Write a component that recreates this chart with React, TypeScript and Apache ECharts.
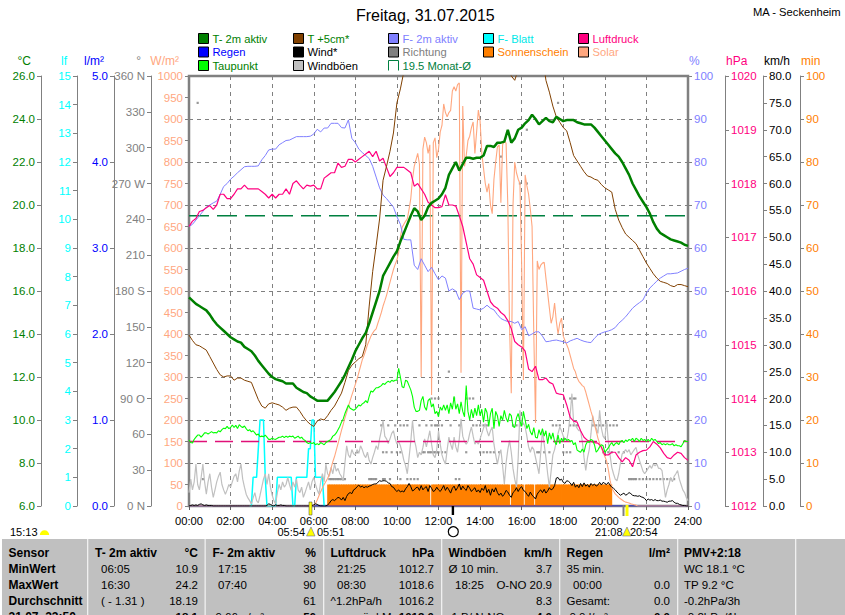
import React, { useEffect, useRef } from "react";
import * as echarts from "echarts";

const FONT = "Liberation Sans";
const minutes5 = Array.from({ length: 289 }, (_, i) => i * 5);
const minutes10 = Array.from({ length: 145 }, (_, i) => i * 10);

const t2m = [
  15.7,15.55,15.4,15.3,15.2,15.1, 14.9,14.65,14.45,14.3,14.15,14.0, 13.85,13.75,13.65,13.6,13.4,13.3,
  13.2,13.0,12.75,12.55,12.35,12.15, 12.0,11.9,11.85,11.8,11.7,11.7, 11.7,11.5,11.4,11.3,11.25,11.1,
  11.0,10.9,10.9,10.9,10.9,11.1, 11.3,11.55,11.8,12.1,12.45,12.8, 13.2,13.5,13.8,14.05,14.5,15.0,
  15.5,16.0,16.7,17.0,17.3,17.6, 17.85,18.3,18.7,19.1,19.5,19.85, 19.7,19.3,19.5,19.9,20.1,20.2,
  20.3,20.5,20.8,21.4,21.7,22.0, 21.6,21.9,22.2,22.2,22.15,22.2, 22.2,22.3,22.75,22.75,22.7,22.9,
  22.9,22.95,23.5,22.9,23.1,23.5, 23.6,23.8,23.95,24.2,24.0,23.75, 23.9,24.05,23.9,23.85,24.1,24.0,
  23.9,23.95,23.95,23.95,23.85,23.8, 23.75,23.75,23.75,23.6,23.4,23.2, 23.0,22.8,22.6,22.4,22.25,22.0,
  21.7,21.4,21.0,20.7,20.4,20.15, 19.9,19.6,19.2,18.9,18.7,18.6, 18.5,18.4,18.35,18.3,18.25,18.15, 18.1,
];
const t5cm = [
  13.95,13.7,13.5,13.45,13.35,13.25, 12.95,12.65,12.35,12.1,12.0,12.05, 12.05,11.85,11.95,11.95,11.85,11.8,
  11.75,11.35,10.95,10.65,10.55,10.75, 10.8,10.75,10.7,10.6,10.45,10.55, 10.6,10.6,10.4,10.15,9.95,9.8,
  9.7,9.95,10.05,10.0,10.2,10.45, 10.65,10.95,11.25,11.75,12.3,12.55, 12.7,12.85,12.95,13.5,15.3,16.9,
  18.1,19.35,21.15,21.8,22.5,23.35, 24.75,25.4,26.2,27.0,27.5,28.0, 28.0,28.3,28.5,28.6,28.6,28.7,
  28.8,28.8,28.9,28.9,28.9,28.8, 28.7,28.5,28.2,28.0,27.8,27.6, 27.4,27.2,27.0,26.9,26.8,26.7,
  26.6,26.5,26.4,26.0,25.8,26.3, 26.7,27.0,27.2,27.2,27.1,27.0, 27.0,25.8,25.25,24.6,24.1,23.85,
  23.6,23.45,22.9,22.3,22.05,21.8, 21.55,21.35,21.3,21.2,21.15,20.95, 20.8,20.7,20.6,19.8,19.3,18.95,
  18.65,18.5,18.35,18.2,17.9,17.6, 17.3,17.05,16.8,16.6,16.45,16.4, 16.35,16.25,16.2,16.3,16.3,16.25, 16.2,
];
const humidity = [
  65,65.5,66.5,67.5,68.5,69.5, 70,70.5,70.9,72.5,74.3,75, 76,76.7,77.5,78.2,78.9,79,
  79,79,79.1,80.5,81.5,82.8, 83,83,84,84.5,85,85.1, 85.5,85.9,85.9,85.9,85.9,86,
  86.5,87.6,87,87.9,87.9,89, 89,89,88,87.9,89.8,85.5, 84.5,83,82.2,81.5,80.8,79,
  76.5,74,72.3,71.5,70.5,69.5, 67.3,65.5,62,61.9,61.9,56, 55,57.5,56,54.5,55.5,54,
  52.6,53.5,53,50,50.5,50, 48,49.5,50,50,46,45.8, 45.6,46,46.7,46,45.6,44.5,
  43.6,43.2,42.9,42.9,42.5,42.9, 41,41.7,39.6,40,40.5,40.5, 39.5,38.2,38.3,38.5,38.6,38.4,
  38.2,37.9,38.4,38.7,39,38.6, 38.3,38.1,38,39,39.8,40.2, 40.5,40.7,41,41.5,42.5,43.2,
  44,45,46,46.7,47.3,47.9, 49.5,50.7,51.5,52.3,53,53.5, 54,54,54.1,54.2,54.6,55, 55.3,
];
const pressure = [
  1017.2,1017.3,1017.35,1017.48,1017.5,1017.55, 1017.59,1017.52,1017.6,1017.8,1017.8,1017.72,
  1017.72,1017.8,1017.9,1017.9,1017.97,1017.9, 1017.9,1017.9,1017.9,1017.85,1017.8,1017.73,
  1017.8,1017.73,1017.8,1017.8,1017.9,1017.8, 1018.0,1018.05,1017.97,1017.9,1017.97,1017.95,
  1017.97,1017.9,1017.9,1018.1,1018.15,1018.2, 1018.2,1018.38,1018.3,1018.32,1018.45,1018.45,
  1018.4,1018.45,1018.5,1018.55,1018.6,1018.5, 1018.6,1018.42,1018.47,1018.3,1018.13,1018.2,
  1018.3,1018.3,1018.3,1018.25,1018.2,1017.95, 1018,1017.9,1017.8,1017.65,1017.6,1017.55,
  1017.55,1017.57,1017.79,1017.6,1017.6,1017.58, 1017.4,1017.2,1016.9,1016.6,1016.5,1016.3,
  1016.25,1016.2,1016,1015.8,1015.72,1015.68, 1015.6,1015.55,1015.45,1015.3,1015.06,1015,
  1014.96,1014.88,1014.55,1014.5,1014.6,1014.35, 1014.35,1014.38,1014.3,1014.27,1014.1,1014.08,
  1014.07,1013.88,1013.65,1013.58,1013.56,1013.4, 1013.28,1013.22,1013.2,1013.18,1013.17,1013.1,
  1012.95,1012.95,1013,1013.0,1012.9,1012.82, 1012.9,1012.85,1012.73,1012.95,1013,1013.03,
  1013.04,1013.1,1013.2,1013.15,1013.08,1012.98, 1012.9,1012.88,1012.95,1013,1012.98,1012.9, 1012.85,
];
const dewPoint = [
  9.07,8.95,8.93,9.1,9.2,9.3,9.3,9.2,9.3,9.4,9.4,9.35,
  9.4,9.46,9.4,9.42,9.4,9.5,9.45,9.55,9.62,9.6,9.7,9.6,
  9.65,9.77,9.65,9.75,9.6,9.78,9.7,9.65,9.72,9.6,9.5,9.55,
  9.45,9.5,9.4,9.3,9.35,9.22,9.25,9.22,9.3,9.2,9.1,9.1,
  9.15,9.12,9.1,9.15,9.2,9.2,9.25,9.18,9.25,9.2,9.25,9.22,
  9.25,9.15,9.2,9.25,9.15,9.2,9.1,9.05,8.95,8.9,8.95,8.9,
  8.95,8.85,8.9,8.85,8.95,8.9,8.85,8.95,9.0,9.05,9.1,9.25,
  9.3,9.4,9.55,9.7,9.9,10.05,10.3,10.5,10.7,10.55,10.5,10.45,
  10.5,10.6,10.7,10.65,10.75,10.8,10.9,10.8,11.1,11.35,11.3,11.4,
  11.5,11.5,11.55,11.6,11.7,11.65,11.75,11.8,11.75,11.85,11.8,11.85,
  11.85,12.4,12.0,11.55,11.5,11.85,11.8,11.6,11.4,11.1,10.6,10.4,
  10.4,10.45,10.9,11.1,10.6,10.45,10.9,11.0,10.6,10.75,10.3,10.4,
  10.15,10.6,10.45,10.7,10.45,10.7,10.3,10.8,10.5,11.1,10.5,10.75,
  10.3,10.85,10.4,10.15,11.6,10.4,10.0,10.5,10.1,10.55,10.2,10.7,
  10.2,10.5,9.9,10.55,10.35,9.7,10.3,10.55,9.6,10.4,10.2,9.7,
  10.2,10.0,10.45,10.1,9.9,10.3,10.2,9.7,9.65,10.1,10.3,9.95,
  9.7,10.4,10.0,9.6,9.8,9.45,9.3,9.65,9.2,9.16,9.55,9.3,
  9.6,9.25,9.5,8.9,9.4,9.1,9.4,9.0,8.85,9.3,8.9,9.15,
  9.0,9.15,9.05,9.1,9.0,9.05,8.85,8.95,8.6,8.55,8.5,8.65,
  8.5,8.85,9.0,8.95,9.1,9.05,8.85,8.5,8.6,8.75,8.85,8.8,
  8.5,8.6,8.7,8.85,8.95,8.8,8.9,8.95,8.85,9.0,9.05,8.95,
  9.07,9.0,9.1,9.05,9.15,9.0,9.15,9.1,9.0,9.15,9.05,9.1,
  9.0,9.1,9.0,9.15,9.05,9.1,9.0,8.9,8.95,8.85,8.9,8.85,
  8.9,8.85,8.85,8.9,8.8,8.85,8.8,8.8,8.76,8.9,9.05,9.0, 9.0,
];
const solar = [
  0,0,0,0,0,0,0,0,0,0,0,0, 0,0,0,0,0,0,0,0,0,0,0,0, 0,0,0,0,0,0,0,0,0,0,0,0,
  0,0,0,0,0,0,0,0,0,0,0,0, 0,0,0,0,0,0,0,0,0,0,0,0, 0,0,0,0,0,0,0,0,0,0,0,0,
  2,6,14,24,33,42,50,57,64,74,88,103,
  115,130,145,160,176,190,205,218,232,245,258,270,
  283,295,310,325,340,350,362,375,385,395,402,408,
  412,425,437,450,465,477,490,505,520,535,550,562,
  572,590,625,648,655,662,668,690,715,760,790,805,
  820,795,300,830,858,845,820,840,258,845,856,810,
  830,870,885,935,915,905,915,920,965,975,965,980,
  984,310,930,790,815,850,860,880,893,820,870,921,
  895,820,785,750,730,750,700,680,760,800,835,840,
  705,840,848,844,700,420,262,700,800,775,760,750,
  560,293,770,745,725,690,650,400,193,570,550,560,
  565,567,530,495,460,425,440,472,430,400,425,437,
  395,385,375,365,350,335,320,312,298,290,285,280,
  277,265,250,235,220,207,190,175,158,146,135,125,
  115,105,85,60,42,35,28,24,20,17,14,11,
  9,8,7,5,4,3,2,0,0,0,0,0,
  0,0,0,0,0,0,0,0,0,0,0,0, 0,0,0,0,0,0,0,0,0,0,0,0, 0,
];
const gusts = [
  2.5,5.0,3.0,4.5,7.8,4.0,3.0,5.3,7.8,4.5,2.2,4.5,
  6.0,3.5,1.6,3.0,4.5,5.5,6.3,4.0,3.0,2.2,3.0,4.0,
  3.5,4.5,5.5,6.0,4.5,6.5,7.8,5.0,3.5,2.2,1.5,1.0,
  0.4,1.5,2.5,1.0,0.6,2.0,3.5,5.0,6.0,4.0,6.0,3.5,
  2.0,1.0,0.4,2.5,4.0,3.0,4.5,3.5,4.0,5.3,4.0,2.9,
  4.5,3.5,5.0,3.0,2.5,3.5,1.6,2.5,3.5,4.5,3.0,4.5,
  5.3,4.0,3.0,2.2,4.5,6.0,4.5,7.8,6.0,5.5,7.2,6.0,
  7.8,6.5,7.0,6.0,5.5,4.7,8.0,11.2,9.5,9.0,10.5,9.7,
  9.5,10.5,9.8,11.2,10.5,9.5,9.0,10.0,8.5,7.8,9.0,10.0,
  11.2,10.5,12.5,14.0,15.9,13.0,12.5,11.6,12.5,13.5,14.0,12.5,
  11.5,12.0,11.2,10.0,8.5,7.5,6.0,9.0,12.0,15.9,12.5,11.0,
  9.0,10.0,9.5,10.9,12.5,11.0,12.5,14.0,11.5,9.5,9.0,10.5,
  14.0,11.5,9.5,8.5,7.8,10.5,12.8,11.5,10.5,12.8,11.0,10.0,
  12.5,16.2,13.0,12.0,11.5,12.0,13.5,14.7,13.0,11.5,12.0,11.5,
  12.5,13.5,14.5,15.3,14.0,13.0,14.0,14.7,11.5,9.5,7.8,9.5,
  10.5,7.5,4.1,8.0,10.5,12.2,10.0,7.0,5.0,3.5,9.0,17.8,
  15.0,15.5,14.7,13.0,11.0,10.0,11.0,10.5,9.0,7.5,6.0,10.0,
  14.0,11.5,9.0,6.0,3.5,6.5,9.5,10.5,12.0,13.5,14.7,14.0,
  13.0,12.5,12.2,14.0,17.0,20.9,15.5,15.0,14.5,14.0,14.0,12.0,
  9.0,6.6,9.0,10.5,13.5,16.8,15.0,14.5,13.5,17.8,14.5,13.0,
  12.5,15.9,12.0,9.5,7.2,6.0,5.0,4.7,6.0,8.0,9.7,10.0,
  10.5,10.0,10.5,9.5,10.0,10.5,10.9,9.5,8.5,7.5,6.5,6.0,
  6.5,7.0,7.5,7.0,7.8,7.5,7.8,7.0,7.0,6.6,4.0,1.6,
  3.0,4.0,5.3,4.5,5.5,6.0,6.6,5.0,4.0,3.0,2.5,1.6, 1.0,
];
const wind = [
  0,0.1,0.2,0.1,0.2,0.1,0.3,0.4,0.2,0.1,0.2,0.1,
  0.1,0.1,0,0,0,0,0,0,0,0,0,0,
  0,0,0,0,0,0,0,0,0,0,0,0,
  0,0,0,0,0,0,0,0,0,0.1,0.4,0.3,
  0.1,0,0.2,0.1,0.1,0.2,0.1,0.1,0,0,0,0,
  0,0,0,0,0,0,0,0,0,0,0,0.1,
  0.2,0.4,0.3,0.1,0,0,0,0,0.2,0.5,1.0,1.2,
  1.0,1.3,1.6,1.5,1.1,1.6,1.0,1.8,2.3,2.5,2.3,3.0,
  3.2,3.6,3.9,3.5,3.7,3.4,3.6,3.5,3.7,3.8,4.0,4.1,
  4.1,4.4,4.7,4.6,4.7,4.7,4.6,4.3,4.2,3.6,3.5,3.0,
  2.7,3.0,2.6,2.8,2.6,3.2,3.6,4.2,3.6,2.8,3.0,3.4,
  3.5,2.9,3.8,3.0,3.4,3.6,2.7,3.8,3.3,2.7,2.9,3.5,
  3.0,2.7,3.2,3.8,2.9,3.5,3.0,2.4,3.3,3.7,2.9,3.4,
  4.1,3.0,3.7,3.2,2.9,3.8,3.3,2.7,3.1,3.4,2.6,3.0,
  2.5,3.3,2.9,3.8,2.5,3.1,2.0,3.2,2.6,3.4,2.5,2.0,
  2.4,1.8,2.2,2.9,2.6,2.0,1.6,2.5,2.8,3.4,2.7,3.3,
  3.6,2.9,2.7,2.2,1.8,2.6,2.0,1.7,1.3,2.2,2.7,3.0,
  2.5,3.1,2.4,2.8,3.4,3.0,3.2,3.8,5.2,5.3,4.8,5.0,
  4.4,4.2,4.7,4.6,4.3,3.8,4.4,3.5,3.9,3.4,4.2,3.6,
  4.3,3.7,4.0,3.5,4.2,3.8,4.1,3.7,3.9,4.4,3.9,4.4,
  4.2,4.0,4.4,3.9,3.5,3.3,3.0,2.6,2.3,2.0,2.2,2.4,
  2.0,2.2,2.5,2.3,2.0,1.9,1.9,1.8,1.9,1.7,1.6,1.4,
  1.0,1.3,1.1,1.2,1.0,1.2,1.0,1.0,1.1,0.9,0.9,0.8,
  0.7,0.9,0.9,1.0,0.7,0.5,0.5,0.3,0.2,0.1,0.1,0, 0,
];
const leafStart = 35;
const leafWetness = [
  0, 0,1,1,1,2,3,3,3,1,0,0,0, 0,0,0,1,1,1,1,1,1,1,1,1,
  0,0,1,1,1,1,1,1,1,2,2,3, 3,1,1,1,1,1,0,
];
const leafMinutes = minutes5.slice(leafStart, leafStart + leafWetness.length);
const sunshine = [
  0,0,0,0,0,0,0,0,0,0,0,0, 0,0,0,0,0,0,0,0,0,0,0,0, 0,0,0,0,0,0,0,0,0,0,0,0,
  0,0,0,0,0,0,0,0,0,0,0,0, 0,0,0,0,0,0,0,0,0,0,0,0, 0,0,0,0,0,0,0,0,0,0,0,0,
  0,0,0,0,0,0,0,0,5,5,5,5,
  5,5,5,5,5,5,5,5,5,5,5,5, 5,5,5,5,5,5,5,5,5,5,5,5, 5,5,5,5,5,5,5,5,5,5,5,5,
  5,5,5,5,5,5,5,5,5,5,5,5, 5,5,5,5,5,5,5,0,5,5,5,5,
  5,5,5,5,5,5,5,5,5,5,5,5, 5,5,5,5,5,5,5,5,5,5,5,5, 5,5,5,5,5,5,5,5,5,5,5,5,
  5,5,5,5,5,0,5,5,5,5,5,5, 5,0,5,5,5,5,5,0,5,5,5,5, 5,5,5,5,5,5,5,5,5,5,5,5,
  5,5,5,5,5,5,5,5,5,5,5,5, 5,5,5,5,5,5,5,5,5,5,5,5, 5,5,5,5,0,0,0,0,0,0,0,0,
  0,0,0,0,0,0,0,0,0,0,0,0, 0,0,0,0,0,0,0,0,0,0,0,0, 0,0,0,0,0,0,0,0,0,0,0,0,
];
const dir225 = [40,405,410,415,420,425,430,435,440,445,450,520,525,530,535,540,560,565,580,610,630,640,650,660,770,780,1270,1275,1280,1285,1290,1300,1310,1320,1330,1340,1350,1360,1370,1380,1390,1400];
const dir45 = [485,560,570,585,600,610,675,680,690,695,700,705,710,715,720,730,740,800,840,850,860,870,880,895,1005,1010,1025,1040,1080,1090,1100,1195,1210,1220,1240,1255];
const dir675 = [555,575,595,610,620,630,665,685,700,710,715,720,730,755,780,820,830,840,850,860,935,945,955,1050,1060,1070,1100,1110,1120,1165,1175,1185,1195,1205,1215,1225,1235];
const dir90 = [700,710,720,765,800,810,820,1100,1110,1115];
const dir1125 = [750];
const dir270 = [955,975];
const dir2925 = [900];
const dir315 = [975];
const dir3375 = [25,1065];
const regenMinutes = [0, 1440];
const regenValues = [0, 0];
const meanMinutes = [0, 1440];
const monthMean = [19.5, 19.5];
const pressureMean = [1013.2, 1013.2];

const directionTicks: Record<number, string> = { 360: "360 N", 270: "270 W", 180: "180 S", 90: "90 O", 0: "0 N" };

const tableHeaders = ["Sensor","T- 2m aktiv","°C","F- 2m aktiv","%","Luftdruck","hPa","Windböen","km/h","Regen","l/m²","PMV+2:18"];
const rowLabels = ["MinWert","MaxWert","Durchschnitt","31.07. 23:50"];
const colT = [["06:05","10.9"],["16:30","24.2"],["( - 1.31 )","18.19"],["","18.1"]];
const colF = [["17:15","38"],["07:40","90"],["","61"],["9.66 g/m³","56"]];
const colP = [["21:25","1012.7"],["08:30","1018.6"],["^1.2hPa/h","1016.2"],["m ü.d.M.","1013.0"]];
const colW = [["Ø 10 min.","3.7"],["18:25","O-NO 20.9"],["","8.3"],["1 B/ N-NO","4.0"]];
const colR = [["35 min.",""],["00:00","0.0"],["Gesamt:","0.0"],["0.0 l/m²","0.0"]];
const colPmv = ["WC 18.1 °C","TP 9.2 °C","-0.2hPa/3h","-0.2hPa/1h"];

const pairs = (xs: number[], ys: number[]) => ys.map((y, i) => [xs[i], y]);

function yAxis(name: string, position: "left" | "right", offset: number, min: number, max: number, interval: number, color: string, formatter: any, extra: any = {}) {
  const left = position === "left";
  return {
    type: "value", name, position, offset, min, max, interval,
    nameLocation: "end", nameGap: 9,
    nameTextStyle: { color, fontFamily: FONT, fontSize: 12, align: left ? "right" : "left", padding: left ? [0, 10, 0, 0] : [0, 0, 0, 1] },
    axisLine: { show: true, onZero: false, lineStyle: { color: "#808080", width: 1 } },
    axisTick: { show: true, length: 4, lineStyle: { color: "#808080" } },
    axisLabel: { color, fontFamily: FONT, fontSize: 11.5, margin: 6, formatter, showMinLabel: true, showMaxLabel: true },
    splitLine: { show: false },
    ...extra,
  };
}

function line(name: string, xs: number[], ys: number[], yAxisIndex: number, color: string, width: number, extra: any = {}) {
  return {
    name, type: "line", xAxisIndex: 0, yAxisIndex, data: pairs(xs, ys),
    showSymbol: false, symbol: "none", smooth: false,
    lineStyle: { color, width }, itemStyle: { color }, ...extra,
  };
}

function dirSeries() {
  const levels: [number[], number][] = [[dir225,22.5],[dir45,45],[dir675,67.5],[dir90,90],[dir1125,112.5],[dir270,270],[dir2925,292.5],[dir315,315],[dir3375,337.5]];
  const data: number[][] = [];
  levels.forEach(([ts, d]) => ts.forEach((t) => data.push([t, d])));
  return { name: "Richtung", type: "scatter", yAxisIndex: 3, data, symbol: "rect", symbolSize: 2.2, itemStyle: { color: "#808080" } };
}

function legendColumn(left: number, items: [string, string, string, any?][]) {
  return {
    show: true, left, top: 33, orient: "vertical", itemWidth: 10, itemHeight: 10, itemGap: 2.5, selectedMode: false, padding: 0,
    textStyle: { fontFamily: FONT, fontSize: 11.2, padding: [0, 0, 0, -1] },
    data: items.map(([name, swatch, text, over]) => ({
      name, icon: "rect",
      itemStyle: { color: swatch, borderColor: "#000", borderWidth: 1, opacity: 1 },
      textStyle: { color: text, fontFamily: FONT, fontSize: 11.2 },
      ...(over || {}),
    })),
  };
}

function tableGraphics() {
  const g: any[] = [];
  const txt = (x: number, y: number, text: string, opts: any = {}) =>
    g.push({ type: "text", x, y, z: 60, style: { text, fill: opts.fill || "#000", font: `${opts.bold ? "bold " : ""}${opts.size || 11.5}px "${FONT}"`, textAlign: opts.align || "left", textVerticalAlign: "middle" } });
  g.push({ type: "rect", shape: { x: 2, y: 539, width: 843, height: 76 }, z: 50, style: { fill: "#c0c0c0" } });
  [87, 204.5, 323, 441, 559, 677, 795].forEach((x) => g.push({ type: "rect", shape: { x, y: 539, width: 1.3, height: 76 }, z: 51, style: { fill: "#f0f0f0" } }));
  const rows = [569, 585, 601, 617];
  txt(8.5, 553, tableHeaders[0], { bold: true, size: 12 });
  rowLabels.forEach((l, i) => txt(8.5, rows[i], l, { bold: true, size: 12 }));
  const cols: [number, number, number, string, string, string[][]][] = [
    [95, 101, 198, tableHeaders[1], tableHeaders[2], colT],
    [212.5, 218, 316, tableHeaders[3], tableHeaders[4], colF],
    [330.5, 337, 434, tableHeaders[5], tableHeaders[6], colP],
    [448.5, 455, 552, tableHeaders[7], tableHeaders[8], colW],
    [566.5, 573, 670, tableHeaders[9], tableHeaders[10], colR],
  ];
  cols.forEach(([lx, sx, rx, h, u, rowsData], c) => {
    txt(lx, 553, h, { bold: true, size: 12 });
    txt(rx, 553, u, { bold: true, size: 12, align: "right" });
    rowsData.forEach(([a, b], i) => {
      const flush = a.startsWith("^") || a.startsWith("Ø") || a.startsWith("Gesamt") || a.startsWith("35") || (i === 3 && c !== 2);
      txt(flush ? lx + (i === 3 ? 3 : 0) : (i === 3 && c === 2 ? 350 : sx), rows[i], a);
      txt(rx, rows[i], b, { align: "right", bold: i === 3 });
    });
  });
  txt(684, 553, tableHeaders[11], { bold: true, size: 12 });
  colPmv.forEach((t, i) => txt(684, rows[i], t));
  return g;
}

function markerGraphics() {
  const g: any[] = [];
  const label = (x: number, text: string) =>
    g.push({ type: "text", x, y: 532, z: 40, style: { text, fill: "#000", font: `11px "${FONT}"`, textVerticalAlign: "middle" } });
  label(10, "15:13"); label(277.5, "05:54"); label(317, "05:51"); label(595, "21:08"); label(630, "20:54");
  g.push({ type: "sector", z: 41, shape: { cx: 44.5, cy: 535, r: 4.7, r0: 0, startAngle: Math.PI, endAngle: Math.PI * 2 }, style: { fill: "#ffff00" } });
  g.push({ type: "polygon", z: 41, shape: { points: [[306.5, 536], [315, 536], [311, 527]] }, style: { fill: "#ffff00", stroke: "#5050a0", lineWidth: 0.5 } });
  g.push({ type: "polygon", z: 41, shape: { points: [[622.5, 536], [631, 536], [627, 527]] }, style: { fill: "#ffff00", stroke: "#5050a0", lineWidth: 0.5 } });
  g.push({ type: "rect", z: 41, shape: { x: 309, y: 502, width: 3, height: 13 }, style: { fill: "#ffff00", stroke: "#404040", lineWidth: 0.5 } });
  g.push({ type: "rect", z: 41, shape: { x: 625.5, y: 505, width: 3, height: 11 }, style: { fill: "#ffff00" } });
  g.push({ type: "rect", z: 41, shape: { x: 622.5, y: 505, width: 2, height: 11 }, style: { fill: "#808080" } });
  g.push({ type: "rect", z: 41, shape: { x: 451.7, y: 506, width: 2.4, height: 9 }, style: { fill: "#000" } });
  g.push({ type: "circle", z: 41, shape: { cx: 453.3, cy: 531.7, r: 5 }, style: { fill: "#fff", stroke: "#000", lineWidth: 1.2 } });
  return g;
}

export default function App() {
  const ref = useRef<HTMLDivElement>(null);
  useEffect(() => {
    const chart = echarts.init(ref.current!, undefined, { renderer: "svg", width: 845, height: 615 });
    chart.setOption({
      animation: false,
      backgroundColor: "#ffffff",
      textStyle: { fontFamily: FONT },
      title: [
        { text: "Freitag, 31.07.2015", left: 356, top: 7, padding: 0, textStyle: { fontFamily: FONT, fontSize: 16, fontWeight: "normal", color: "#000" } },
        { text: "MA - Seckenheim", left: 753, top: 6, padding: 0, textStyle: { fontFamily: FONT, fontSize: 11.2, fontWeight: "normal", color: "#000" } },
      ],
      legend: [
        legendColumn(198, [["T- 2m aktiv","#008000","#008000"],["Regen","#0000ff","#0000ff"],["Taupunkt","#00ff00","#008000"]]),
        legendColumn(293, [["T +5cm*","#804000","#008000"],["Wind*","#000000","#000000"],["Windböen","#c0c0c0","#000000"]]),
        legendColumn(388, [["F- 2m aktiv","#8080ff","#8080ff"],["Richtung","#808080","#808080"],
          ["19.5 Monat-Ø","#008040","#008040",{ icon: "path://M0 10V0H10V10", itemStyle: { color: "transparent", borderColor: "#008040", borderWidth: 1 } }]]),
        legendColumn(483, [["F- Blatt","#00ffff","#00e8e8"],["Sonnenschein","#ff8000","#ff8000"]]),
        legendColumn(578, [["Luftdruck","#ff0080","#ff0080"],["Solar","#ffa77f","#ffa77f"]]),
      ],
      grid: { left: 189, right: 157, top: 76, bottom: 109, show: true, borderColor: "#808080", borderWidth: 2.5, backgroundColor: "#ffffff" },
      xAxis: {
        type: "value", min: 0, max: 1440, interval: 120,
        axisLine: { show: false },
        axisTick: { show: true, length: 4, lineStyle: { color: "#606060" } },
        axisLabel: {
          color: "#000", fontFamily: FONT, fontSize: 11.2, margin: 9, showMinLabel: true, showMaxLabel: true,
          formatter: (v: number) => `${String(Math.floor(v / 60)).padStart(2, "0")}:00`,
        },
        splitLine: { show: true, lineStyle: { color: "#808080", type: [4, 4], width: 1 } },
      },
      yAxis: [
        yAxis("°C", "left", 148, 6, 26, 2, "#008000", (v: number) => v.toFixed(1),
          { splitLine: { show: true, lineStyle: { color: "#808080", type: [4, 4], width: 1 } } }),
        yAxis("lf", "left", 112, 0, 15, 1, "#00ffff", (v: number) => String(v)),
        yAxis("l/m²", "left", 75, 0, 5, 1, "#0000ff", (v: number) => v.toFixed(1)),
        yAxis("°", "left", 38, 0, 360, 30, "#808080", (v: number) => directionTicks[v] ?? String(v)),
        yAxis("W/m²", "left", 0, 0, 1000, 50, "#ffa77f", (v: number) => String(v)),
        yAxis("%", "right", 0, 0, 100, 10, "#8080ff", (v: number) => String(v)),
        yAxis("hPa", "right", 37, 1012, 1020, 1, "#ff0080", (v: number) => String(v)),
        yAxis("km/h", "right", 75, 0, 80, 5, "#000000", (v: number) => v.toFixed(1)),
        yAxis("min", "right", 112, 0, 100, 10, "#ff8000", (v: number) => String(v)),
      ],
      series: [
        line("Regen", regenMinutes, regenValues, 2, "#0000ff", 0.8),
        line("F- Blatt", leafMinutes, leafWetness, 1, "#00ffff", 1.5),
        line("Windböen", minutes5, gusts, 7, "#c0c0c0", 1.2),
        dirSeries(),
        {
          name: "Sonnenschein", type: "bar", yAxisIndex: 8, barWidth: 2.6,
          data: pairs(minutes5.map((m) => m + 2.5), sunshine), itemStyle: { color: "#ff8000" },
        },
        line("19.5 Monat-Ø", meanMinutes, monthMean, 0, "#008040", 1.3, { lineStyle: { color: "#008040", width: 1.3, type: [20, 8] } }),
        line("Luftdruck Ø", meanMinutes, pressureMean, 6, "#e01078", 1.5, { lineStyle: { color: "#e01078", width: 1.5, type: [18, 8] } }),
        line("Solar", minutes5, solar, 4, "#ffa77f", 1.1),
        line("F- 2m aktiv", minutes10, humidity, 5, "#8080ff", 1),
        line("Luftdruck", minutes10, pressure, 6, "#ff0080", 1.2),
        line("Taupunkt", minutes5, dewPoint, 0, "#00ff00", 1.1),
        line("Wind*", minutes5, wind, 7, "#000000", 1),
        line("T +5cm*", minutes10, t5cm, 0, "#804000", 1),
        line("T- 2m aktiv", minutes10, t2m, 0, "#008000", 2.5),
      ],
      graphic: { elements: [...markerGraphics(), ...tableGraphics()] },
    });
    return () => chart.dispose();
  }, []);
  return <div ref={ref} style={{ position: "fixed", left: 0, top: 0, width: 845, height: 615 }} />;
}
